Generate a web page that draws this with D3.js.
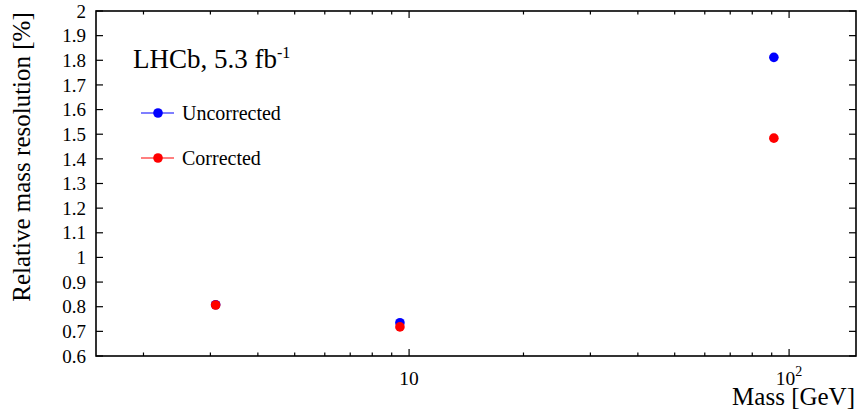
<!DOCTYPE html>
<html>
<head>
<meta charset="utf-8">
<script src="https://cdn.jsdelivr.net/npm/d3@7"></script>
<style>
  html, body { margin: 0; padding: 0; background: #fff; }
  svg { display: block; font-family: "Liberation Serif", "Times New Roman", serif; }
</style>
</head>
<body>
<svg id="chart" width="859" height="415"></svg>
<script>
// Resonances: J/psi, Upsilon(1S), Z boson
const masses = [3.097, 9.46, 91.19];
const uncorrected = [0.808, 0.735, 1.812];
const corrected = [0.807, 0.718, 1.484];
const yTicks = [0.6, 0.7, 0.8, 0.9, 1, 1.1, 1.2, 1.3, 1.4, 1.5, 1.6, 1.7, 1.8, 1.9, 2];
const xMajor = [10, 100];
const xMinor = [2, 3, 4, 5, 6, 7, 8, 9, 20, 30, 40, 50, 60, 70, 80, 90];
const seriesNames = ["Uncorrected", "Corrected"];
const seriesColors = ["#0000ff", "#ff0000"];

const svg = d3.select("#chart");
const m = { left: 96, right: 856, top: 11, bottom: 356 };

const x = d3.scaleLog().domain([1.5, 150]).range([m.left, m.right]);
const y = d3.scaleLinear().domain([0.6, 2]).range([m.bottom, m.top]);

const g = svg.append("g");

// ticks pointing inward on all four sides
const majorLen = 7, minorLen = 3.5;
const tickStyle = sel => sel.attr("stroke", "#000").attr("stroke-width", 1.2);

yTicks.forEach(v => {
  g.append("line").attr("x1", m.left).attr("x2", m.left + majorLen)
    .attr("y1", y(v)).attr("y2", y(v)).call(tickStyle);
  g.append("line").attr("x1", m.right).attr("x2", m.right - majorLen)
    .attr("y1", y(v)).attr("y2", y(v)).call(tickStyle);
  g.append("text").attr("x", 86).attr("y", y(v)).attr("dy", "0.35em")
    .attr("text-anchor", "end").attr("font-size", 19).text(String(v));
});

xMajor.forEach(v => {
  g.append("line").attr("x1", x(v)).attr("x2", x(v))
    .attr("y1", m.bottom).attr("y2", m.bottom - majorLen).call(tickStyle);
  g.append("line").attr("x1", x(v)).attr("x2", x(v))
    .attr("y1", m.top).attr("y2", m.top + majorLen).call(tickStyle);
});
xMinor.forEach(v => {
  g.append("line").attr("x1", x(v)).attr("x2", x(v))
    .attr("y1", m.bottom).attr("y2", m.bottom - minorLen).call(tickStyle);
  g.append("line").attr("x1", x(v)).attr("x2", x(v))
    .attr("y1", m.top).attr("y2", m.top + minorLen).call(tickStyle);
});

// x tick labels
g.append("text").attr("x", x(10)).attr("y", 385).attr("text-anchor", "middle")
  .attr("font-size", 19.5).text("10");
const t100 = g.append("text").attr("x", x(100)).attr("y", 385)
  .attr("text-anchor", "middle").attr("font-size", 19.5);
t100.append("tspan").text("10");
t100.append("tspan").attr("dy", -9).attr("font-size", 14).text("2");

// frame
g.append("rect").attr("x", m.left).attr("y", m.top)
  .attr("width", m.right - m.left).attr("height", m.bottom - m.top)
  .attr("fill", "none").attr("stroke", "#000").attr("stroke-width", 1.6);

// axis titles
g.append("text").attr("x", 855).attr("y", 405).attr("text-anchor", "end")
  .attr("font-size", 25).text("Mass [GeV]");
g.append("text").attr("transform", "translate(30, 157) rotate(-90)")
  .attr("text-anchor", "middle").attr("font-size", 25).text("Relative mass resolution [%]");

// experiment label
const lab = g.append("text").attr("x", 133).attr("y", 68).attr("font-size", 27);
lab.append("tspan").text("LHCb, 5.3 fb");
lab.append("tspan").attr("dy", -10).attr("font-size", 16).text("-1");

// legend
seriesNames.forEach((name, i) => {
  const ly = 113 + i * 45;
  g.append("line").attr("x1", 141).attr("x2", 174).attr("y1", ly).attr("y2", ly)
    .attr("stroke", seriesColors[i]).attr("stroke-width", 1.2);
  g.append("circle").attr("cx", 158).attr("cy", ly).attr("r", 4.8).attr("fill", seriesColors[i]);
  g.append("text").attr("x", 182).attr("y", ly).attr("dy", "0.35em")
    .attr("font-size", 20).text(name);
});

// data points
[uncorrected, corrected].forEach((vals, i) => {
  g.append("g").selectAll("circle").data(vals).join("circle")
    .attr("cx", (d, j) => x(masses[j]))
    .attr("cy", d => y(d))
    .attr("r", 4.8)
    .attr("fill", seriesColors[i]);
});
</script>
</body>
</html>
